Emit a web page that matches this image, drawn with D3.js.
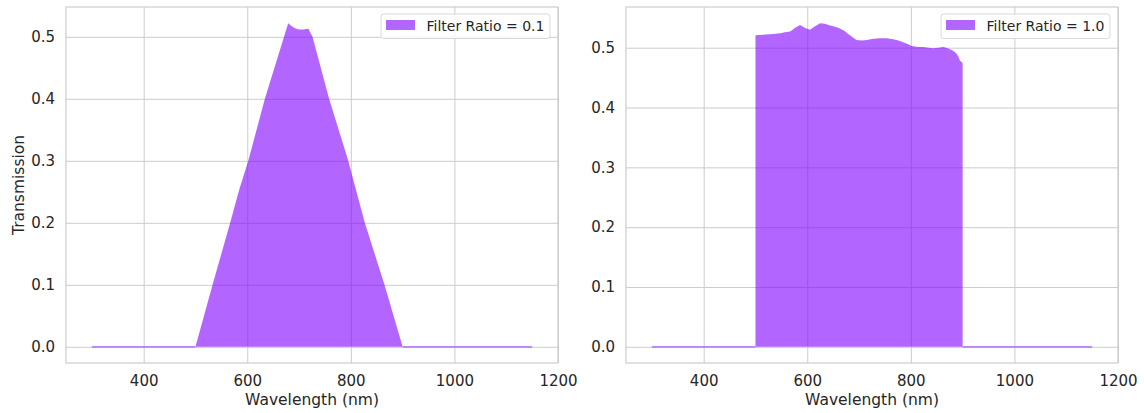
<!DOCTYPE html>
<html>
<head>
<meta charset="utf-8">
<script src="https://cdn.jsdelivr.net/npm/d3@7"></script>
<style>
  html, body { margin: 0; padding: 0; background: #fff; }
  svg { display: block; }
  text { font-family: "DejaVu Sans", sans-serif; fill: #262626; }
</style>
</head>
<body>
<svg id="chart" width="1144" height="413"></svg>
<script>
// ---- data ----
const wavelengthLow = [300, 500, 533, 567, 585, 602, 634, 671, 679, 686, 692, 700, 708, 718, 726, 758, 795, 827, 865, 900, 1150];
const transmissionLow = [0, 0, 0.1, 0.2, 0.255, 0.3, 0.4, 0.5, 0.522, 0.517, 0.514, 0.512, 0.512, 0.513, 0.5, 0.4, 0.3, 0.2, 0.1, 0, 0];

const wavelengthHigh = [300, 500, 500, 520, 534, 548, 557, 567, 576, 586, 596, 605, 615, 625, 634, 644, 654, 663, 672, 679, 687, 695, 705, 715, 728, 740, 753, 766, 776, 785, 794, 802, 813, 824, 834, 843, 853, 863, 871, 879, 885, 889, 892, 895, 898, 900, 900, 1150];
const transmissionHigh = [0, 0, 0.521, 0.522, 0.523, 0.524, 0.526, 0.527, 0.533, 0.538, 0.533, 0.530, 0.536, 0.541, 0.540, 0.537, 0.535, 0.532, 0.528, 0.523, 0.518, 0.513, 0.512, 0.513, 0.515, 0.516, 0.516, 0.514, 0.512, 0.509, 0.506, 0.503, 0.501, 0.501, 0.500, 0.499, 0.500, 0.501, 0.499, 0.496, 0.493, 0.489, 0.485, 0.478, 0.476, 0.474, 0, 0];

const legendLabels = ["Filter Ratio = 0.1", "Filter Ratio = 1.0"];
const xTicks = [400, 600, 800, 1000, 1200];
const yTicks = [0, 0.1, 0.2, 0.3, 0.4, 0.5];
const xLabel = "Wavelength (nm)";
const yLabel = "Transmission";

// ---- layout ----
const svg = d3.select("#chart");
const fillColor = "#7f00ff";
const gridColor = "#cccccc";
const panels = [
  { left: 66, right: 558, top: 7, bottom: 363, xs: wavelengthLow, ys: transmissionLow, label: legendLabels[0], showY: true },
  { left: 626, right: 1118, top: 7, bottom: 363, xs: wavelengthHigh, ys: transmissionHigh, label: legendLabels[1], showY: false }
];

panels.forEach(p => {
  const data = p.xs.map((x, i) => ({ x, y: p.ys[i] }));
  const ymax = d3.max(p.ys);
  const pad = ymax * 0.05;
  const x = d3.scaleLinear().domain([250, 1200]).range([p.left, p.right]);
  const y = d3.scaleLinear().domain([-pad, ymax + pad]).range([p.bottom, p.top]);
  const g = svg.append("g");

  // grid
  g.append("g").attr("transform", `translate(0,${p.top})`)
    .call(d3.axisBottom(x).tickValues(xTicks).tickSize(p.bottom - p.top).tickFormat(""))
    .call(a => a.select(".domain").remove())
    .call(a => a.selectAll("line").attr("stroke", gridColor).attr("stroke-width", 1));
  g.append("g").attr("transform", `translate(${p.left},0)`)
    .call(d3.axisRight(y).tickValues(yTicks).tickSize(p.right - p.left).tickFormat(""))
    .call(a => a.select(".domain").remove())
    .call(a => a.selectAll("line").attr("stroke", gridColor).attr("stroke-width", 1));

  // area
  const area = d3.area().x(d => x(d.x)).y0(y(0)).y1(d => y(d.y));
  g.append("path").datum(data).attr("d", area)
    .attr("fill", fillColor).attr("fill-opacity", 0.6);
  // zero-edge line
  const zeroLine = d3.line().defined(d => d.y === 0).x(d => x(d.x)).y(d => y(d.y));
  g.append("path").datum(data).attr("d", zeroLine)
    .attr("fill", "none").attr("stroke", fillColor).attr("stroke-opacity", 0.6).attr("stroke-width", 1.3);

  // spines
  g.append("rect").attr("x", p.left).attr("y", p.top)
    .attr("width", p.right - p.left).attr("height", p.bottom - p.top)
    .attr("fill", "none").attr("stroke", gridColor).attr("stroke-width", 1.2);

  // x tick labels
  const xa = g.append("g").attr("transform", `translate(0,${p.bottom})`)
    .call(d3.axisBottom(x).tickValues(xTicks).tickSize(0).tickPadding(0).tickFormat(d3.format("d")));
  xa.select(".domain").remove();
  xa.selectAll("text").attr("dy", null).attr("y", 22.5).attr("font-size", 15)
    .attr("font-family", "DejaVu Sans").attr("fill", "#262626");

  // y tick labels
  const ya = g.append("g").attr("transform", `translate(${p.left},0)`)
    .call(d3.axisLeft(y).tickValues(yTicks).tickSize(0).tickPadding(11).tickFormat(d3.format(".1f")));
  ya.select(".domain").remove();
  ya.selectAll("text").attr("font-size", 15)
    .attr("font-family", "DejaVu Sans").attr("fill", "#262626");

  // x label
  g.append("text").attr("x", (p.left + p.right) / 2).attr("y", 405)
    .attr("text-anchor", "middle").attr("font-size", 15.5).text(xLabel);

  if (p.showY) {
    g.append("text").attr("transform", `translate(24,${(p.top + p.bottom) / 2}) rotate(-90)`)
      .attr("text-anchor", "middle").attr("font-size", 15.5).text(yLabel);
  }

  // legend
  const lx = p.right - 177, ly = p.top + 7;
  const lg = g.append("g");
  lg.append("rect").attr("x", lx).attr("y", ly).attr("width", 169).attr("height", 24.5)
    .attr("rx", 2.5).attr("fill", "#ffffff").attr("fill-opacity", 0.8)
    .attr("stroke", "#d9d9d9").attr("stroke-width", 1);
  lg.append("rect").attr("x", lx + 5).attr("y", ly + 6).attr("width", 29).attr("height", 10)
    .attr("fill", fillColor).attr("fill-opacity", 0.6);
  lg.append("text").attr("x", lx + 45.5).attr("y", ly + 16.5)
    .attr("font-size", 14).text(p.label);
});
</script>
</body>
</html>
